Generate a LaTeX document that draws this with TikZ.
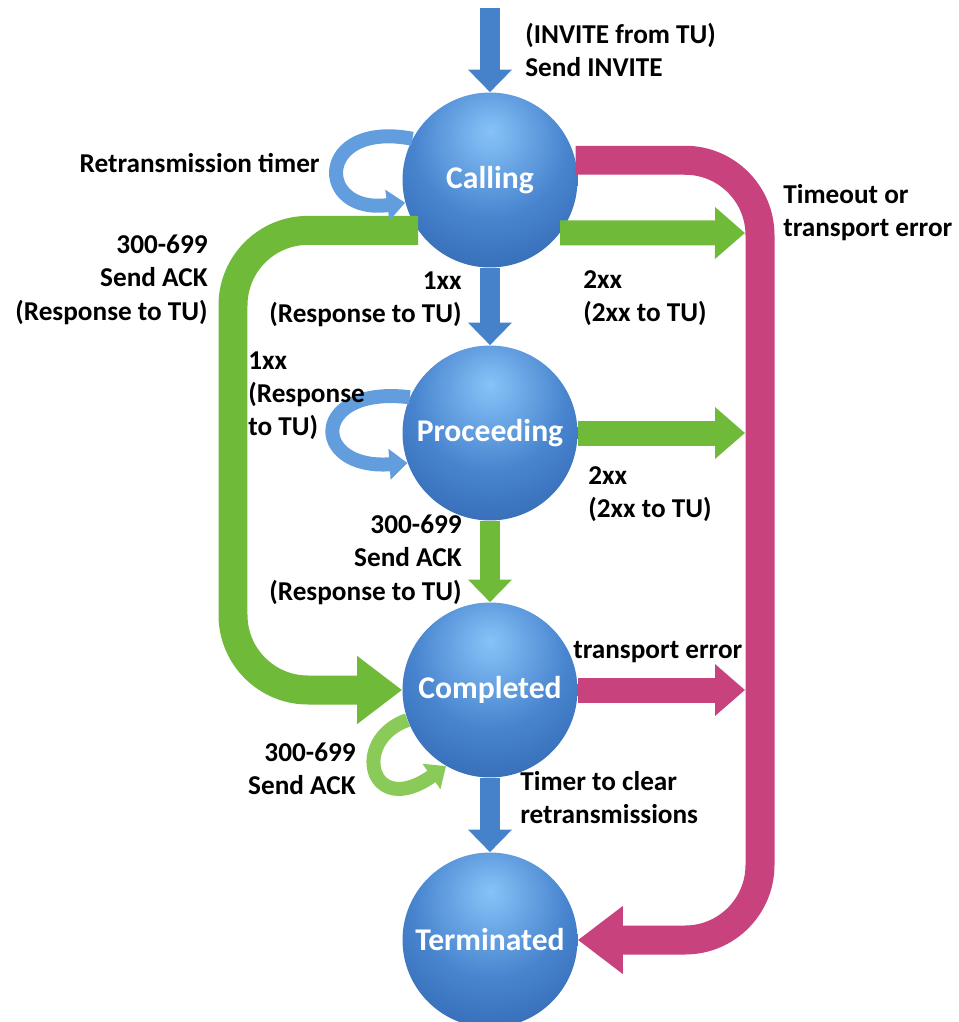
\documentclass[tikz,border=0pt]{standalone}
\usepackage{fontspec}
\setmainfont{Carlito}
\usetikzlibrary{arrows.meta,positioning}
\definecolor{sphhi}{RGB}{135,195,248}
\definecolor{sphmid}{RGB}{72,132,206}
\definecolor{sphdark}{RGB}{36,86,160}
\definecolor{flowblue}{RGB}{70,130,202}
\definecolor{loopblue}{RGB}{98,158,222}
\definecolor{flowgreen}{RGB}{112,186,58}
\definecolor{loopgreen}{RGB}{138,202,88}
\definecolor{flowpink}{RGB}{200,66,126}
\pgfdeclareradialshading{bluesphere}{\pgfpoint{0bp}{14bp}}{color(0bp)=(sphhi); color(22bp)=(sphmid); color(50bp)=(sphdark); color(64bp)=(sphdark); color(100bp)=(sphdark)}

\begin{document}
\begin{tikzpicture}[x=0.02cm,y=-0.02cm,
  state/.style={circle,shade,shading=bluesphere,minimum size=3.5cm,inner sep=0pt,text=white,font=\bfseries\fontsize{18}{22}\selectfont},
  lbl/.style={inner sep=0pt,font=\bfseries\fontsize{15.5}{18.8}\selectfont},
  vflow/.style={line width=0.4cm,-{Triangle[length=0.45cm,width=0.85cm]}},
  hflow/.style={line width=0.5cm,-{Triangle[length=0.6cm,width=1cm]}},
  bigflow/.style={line width=0.58cm,rounded corners=1.5cm,-{Triangle[length=0.9cm,width=1.3cm]}},
  loopflow/.style={line width=0.28cm,-{Triangle[length=0.36cm,width=0.6cm]}}]
\useasboundingbox (0,0) rectangle (958,1022);
% states
\node[state] (calling) at (490,180) {Calling};
\node[state] (proceeding) at (490,433) {Proceeding};
\node[state] (completed) at (490,690) {Completed};
\node[state] (terminated) at (490,940) {Terminated};
% free ends and corners
\coordinate (invite) at (490,8);
\coordinate (calling2xx) at (745,233);
\coordinate (proc2xx) at (745,433);
\coordinate (comperr) at (745,690);
\coordinate (pinkcorner) at (760,940);
\coordinate (greencorner) at (233,690);
% transitions
\draw[bigflow,draw=flowpink] (calling.13) -| (pinkcorner) -- (terminated.east);
\draw[bigflow,draw=flowgreen] (calling.215) -| (greencorner) -- (completed.west);
\draw[vflow,draw=flowblue] (invite) -- (calling);
\draw[vflow,draw=flowblue] (calling) -- (proceeding);
\draw[vflow,draw=flowgreen] (proceeding) -- (completed);
\draw[vflow,draw=flowblue] (completed) -- (terminated);
\draw[hflow,draw=flowgreen] (calling.-37) -- (calling2xx);
\draw[hflow,draw=flowgreen] (proceeding) -- (proc2xx);
\draw[hflow,draw=flowpink] (completed) -- (comperr);
\draw[loopflow,draw=loopblue] (calling.152) .. controls (315,120) and (315,215) .. (calling.195);
\draw[loopflow,draw=loopblue] (proceeding.156) .. controls (310,385) and (310,470) .. (proceeding.200);
\draw[loopflow,draw=loopgreen] (completed.200) .. controls (350,740) and (370,820) .. (completed.240);
% labels
\node[lbl,anchor=north west,align=left] (invitelbl) at (525,23) {(INVITE from TU)\\Send INVITE};
\node[lbl,anchor=east] (retranslbl) at (320,163) {Retransmission timer};
\node[lbl,anchor=north west,align=left] (timeoutlbl) at (783,184) {Timeout or\\transport error};
\node[lbl,anchor=north east,align=right] (ackleftlbl) at (208,235) {300-699\\Send ACK\\(Response to TU)};
\node[lbl,anchor=north east,align=right] (calling1xxlbl) at (462,271) {1xx\\(Response to TU)};
\node[lbl,anchor=north west,align=left] (calling2xxlbl) at (583,270) {2xx\\(2xx to TU)};
\node[lbl,anchor=north west,align=left] (proc1xxlbl) at (248,351) {1xx\\(Response\\to TU)};
\node[lbl,anchor=north west,align=left] (proc2xxlbl) at (588,466) {2xx\\(2xx to TU)};
\node[lbl,anchor=north east,align=right] (procacklbl) at (462,515) {300-699\\Send ACK\\(Response to TU)};
\node[lbl,anchor=west] (transportlbl) at (573,652) {transport error};
\node[lbl,anchor=north east,align=right] (compacklbl) at (356,743) {300-699\\Send ACK};
\node[lbl,anchor=north west,align=left] (timerlbl) at (520,771) {Timer to clear\\retransmissions};
\end{tikzpicture}
\end{document}
